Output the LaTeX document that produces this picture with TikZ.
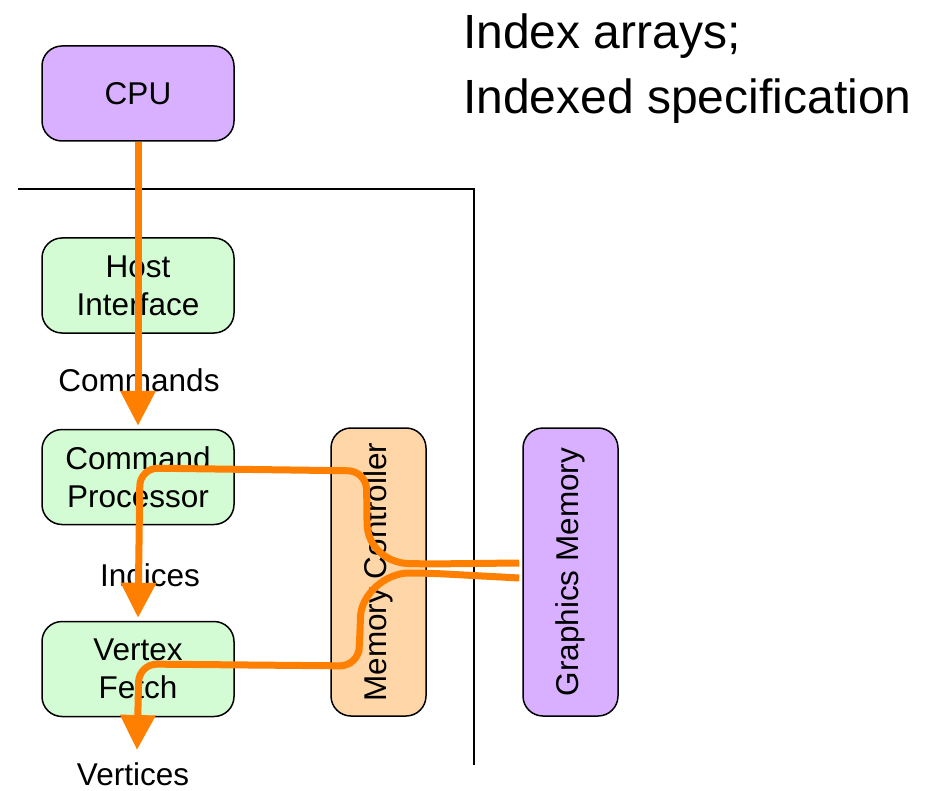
\documentclass[tikz,border=0pt]{standalone}
\usepackage{fontspec}
\setmainfont{Liberation Sans}
\usepackage{tikz}
\usetikzlibrary{positioning,arrows.meta,calc}

\definecolor{cpuviolet}{RGB}{216,176,255}
\definecolor{stagegreen}{RGB}{212,252,212}
\definecolor{mcpeach}{RGB}{255,214,168}
\definecolor{flowor}{RGB}{255,128,0}
\newcommand{\lblsize}{\fontsize{31.5}{38}\selectfont}

\begin{document}
\begin{tikzpicture}[x=1pt,y=-1pt,
    box/.style={draw=black,line width=1.5pt,rounded corners=20pt,
      minimum width=192pt,minimum height=95pt,align=center,
      font=\lblsize,inner sep=0pt},
    stage/.style={box,fill=stagegreen},
    mem/.style={box,minimum width=95pt,minimum height=288pt},
    lbl/.style={font=\lblsize,inner sep=0pt},
    flow/.style={draw=flowor,line width=7pt,
      -{Triangle[width=34pt,length=35pt]}}]
  \useasboundingbox (0,0) rectangle (925,791);

  % heading
  \node[anchor=base west,inner sep=0pt,font=\fontsize{48}{58}\selectfont]
    (head1) at (463,49) {Index arrays;};
  \node[anchor=base west,inner sep=0pt,font=\fontsize{48}{58}\selectfont]
    (head2) at (463,114) {Indexed specification};

  % chip outline
  \draw[line width=1.5pt] (18,189) -- (474,189) -- (474,765);

  % blocks
  \node[box,fill=cpuviolet] (cpu) at (138,93.5) {CPU};
  \node[stage] (host) at (138,285.5) {Host\\Interface};
  \node[stage] (cmd) at (138,477) {Command\\Processor};
  \node[stage] (vfetch) at (138,669) {Vertex\\Fetch};
  \node[mem,fill=mcpeach] (mc) at (378.5,572) {\rotatebox{90}{Memory Controller}};
  \node[mem,fill=cpuviolet] (gmem) at (570.5,572) {\rotatebox{90}{Graphics Memory}};

  % stream labels
  \node[lbl] (commands) at (139,380) {Commands};
  \node[lbl] (indices) at (150,575) {Indices};
  \node[lbl] (vertices) at (133,774) {Vertices};
  \coordinate (vout) at (137,750);

  % data flow
  \draw[flow,shorten >=3pt] (cpu.south) -- (cmd.north);
  \draw[flow,rounded corners=18pt,shorten >=3pt]
    ([xshift=-3pt,yshift=9pt]gmem.west) -- (427,564)
    .. controls (385,563) and (367,545) .. (367,505)
    -- (366,471) -- (140,468) -- (vfetch.north);
  \draw[flow,rounded corners=18pt]
    ([xshift=-3pt,yshift=-6pt]gmem.west) -- (427,573)
    .. controls (385,573) and (361,595) .. (360,635)
    -- (358,666) -- (139,664) -- (vout);
\end{tikzpicture}
\end{document}
